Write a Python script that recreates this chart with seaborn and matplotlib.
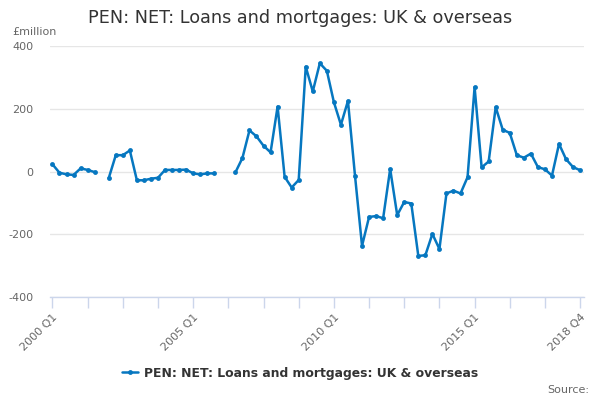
import numpy as np
import pandas as pd
import matplotlib
matplotlib.use("Agg")
import matplotlib.pyplot as plt
from matplotlib.lines import Line2D
import seaborn as sns

# Quarterly series 2000 Q1 .. 2018 Q4 (NaN = gap)
quarters = [f"{y} Q{q}" for y in range(2000, 2019) for q in range(1, 5)]
values = [
    23, -4, -9, -11, 10, 5, -2, np.nan,
    -21, 52, 52, 67, -28, -28, -23, -20,
    5, 5, 5, 6, -6, -9, -6, -6,
    np.nan, np.nan, -3, 43, 131, 112, 82, 61,
    207, -17, -51, -27, 334, 255, 345, 321,
    221, 149, 225, -13, -237, -145, -142, -149,
    8, -139, -97, -102, -269, -267, -199, -247,
    -70, -61, -70, -18, 269, 13, 32, 205,
    133, 123, 52, 44, 57, 14, 7, -13,
    88, 39, 14, 4,
]
labelled_quarters = ["2000 Q1", "2005 Q1", "2010 Q1", "2015 Q1", "2018 Q4"]
y_ticks = [-400, -200, 0, 200, 400]
series_name = "PEN: NET: Loans and mortgages: UK & overseas"

df = pd.DataFrame({"quarter": quarters, "value": values})
df["idx"] = np.arange(len(df))
df["seg"] = df["value"].isna().cumsum()
df_plot = df.dropna()

sns.set_theme(style="white")
plt.rcParams["font.family"] = ["DejaVu Sans"]

color = "#0677c0"
fig = plt.figure(figsize=(6, 4), dpi=100)
ax = fig.add_axes([50 / 600, 1 - 297 / 400, 534 / 600, 251 / 400])

sns.lineplot(data=df_plot, x="idx", y="value", units="seg", estimator=None,
             color=color, linewidth=1.8, marker="o", markersize=3.5,
             markeredgewidth=0, ax=ax, legend=False)

ax.set_xlim(-0.35, 75.55)
ax.set_ylim(-400, 400)
ax.set_yticks(y_ticks)
ax.set_yticklabels([str(v) for v in y_ticks], color="#666666", fontsize=8)
ax.yaxis.grid(True, color="#e6e6e6", linewidth=1)
ax.tick_params(axis="y", length=0, pad=12)

tick_pos = list(range(0, 76, 5))
tick_lab = [quarters[i] if quarters[i] in labelled_quarters else "" for i in tick_pos]
ax.set_xticks(tick_pos)
ax.set_xticklabels(tick_lab, rotation=45, ha="right", rotation_mode="anchor",
                   color="#666666", fontsize=8)
ax.tick_params(axis="x", length=8, width=1, color="#ccd6eb", direction="out",
               bottom=True, pad=3)
ax.set_xlabel("")
ax.set_ylabel("")
for s in ["top", "right", "left"]:
    ax.spines[s].set_visible(False)
ax.spines["bottom"].set_color("#ccd6eb")
ax.spines["bottom"].set_linewidth(1)
ax.set_axisbelow(True)

fig.text(0.5, 1 - 18 / 400, series_name, ha="center", va="center",
         fontsize=12.7, color="#333333")
fig.text(12 / 600, 1 - 32 / 400, "£million", ha="left", va="center",
         fontsize=8, color="#666666")
fig.text(589 / 600, 1 - 390 / 400, "Source:", ha="right", va="center",
         fontsize=8, color="#666666")

handle = Line2D([0], [0], color=color, linewidth=1.8, marker="o",
                markersize=3.5, markeredgewidth=0)
fig.legend([handle], [series_name], loc="center", bbox_to_anchor=(0.5, 1 - 373 / 400),
           frameon=False, prop={"weight": "bold", "size": 8.9},
           labelcolor="#333333", handlelength=1.3, handletextpad=0.5)

fig.savefig("out.png", dpi=100)
